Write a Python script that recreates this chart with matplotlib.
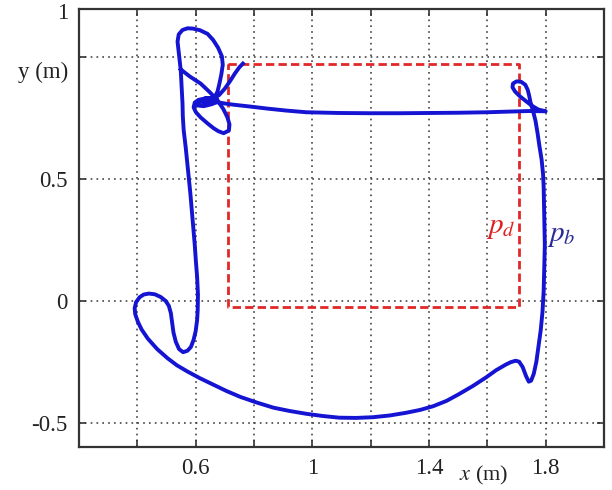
import numpy as np
import matplotlib.pyplot as plt

plt.rcParams['font.family'] = ['Liberation Serif', 'DejaVu Serif']
plt.rcParams['mathtext.fontset'] = 'stix'

# desired path (square)
rect_x = [0.71, 1.71, 1.71, 0.71, 0.71]
rect_y = [0.975, 0.975, -0.025, -0.025, 0.975]

# measured path of the body
path_x = [0.549, 0.580, 0.617, 0.648, 0.675, 0.695, 0.709, 0.716, 0.714, 0.696,
          0.678, 0.662, 0.640, 0.617, 0.601, 0.593, 0.597, 0.610, 0.630, 0.652,
          0.672, 0.676, 0.655, 0.628, 0.605, 0.615, 0.645, 0.680, 0.705, 0.730,
          0.790, 0.846, 0.910, 0.979, 1.09, 1.20, 1.30, 1.40, 1.50, 1.60,
          1.68, 1.74, 1.80, 1.775, 1.755, 1.735, 1.712, 1.695, 1.686, 1.688,
          1.700, 1.716, 1.730, 1.738, 1.743, 1.748, 1.756, 1.765, 1.772, 1.778,
          1.786, 1.791, 1.793, 1.795, 1.797, 1.795, 1.793, 1.789, 1.783, 1.776,
          1.768, 1.759, 1.750, 1.742, 1.733, 1.721, 1.709, 1.697, 1.680, 1.663,
          1.630, 1.595, 1.550, 1.503, 1.460, 1.414, 1.370, 1.321, 1.265, 1.209,
          1.150, 1.092, 1.035, 0.979, 0.920, 0.867, 0.810, 0.754, 0.705, 0.662,
          0.615, 0.573, 0.536, 0.504, 0.468, 0.436, 0.415, 0.402, 0.393, 0.391,
          0.396, 0.408, 0.422, 0.440, 0.460, 0.480, 0.497, 0.508, 0.515, 0.519,
          0.524, 0.532, 0.543, 0.557, 0.572, 0.584, 0.593, 0.600, 0.605, 0.607,
          0.608, 0.605, 0.601, 0.597, 0.590, 0.582, 0.573, 0.566, 0.559, 0.556,
          0.555, 0.552, 0.549, 0.543, 0.538, 0.542, 0.555, 0.572, 0.590, 0.615,
          0.641, 0.660, 0.677, 0.690, 0.693, 0.688, 0.682, 0.675, 0.665, 0.650,
          0.630, 0.618, 0.632, 0.660, 0.680, 0.700, 0.718, 0.735, 0.750, 0.762]
path_y = [0.951, 0.922, 0.893, 0.858, 0.824, 0.788, 0.754, 0.725, 0.700, 0.689,
          0.697, 0.709, 0.730, 0.754, 0.775, 0.795, 0.815, 0.826, 0.831, 0.834,
          0.830, 0.818, 0.808, 0.800, 0.803, 0.818, 0.822, 0.815, 0.810, 0.806,
          0.798, 0.790, 0.782, 0.775, 0.772, 0.771, 0.771, 0.772, 0.773, 0.775,
          0.778, 0.780, 0.779, 0.786, 0.800, 0.818, 0.840, 0.860, 0.878, 0.893,
          0.902, 0.900, 0.888, 0.868, 0.845, 0.815, 0.783, 0.740, 0.690, 0.640,
          0.580, 0.520, 0.467, 0.350, 0.230, 0.130, 0.040, -0.045, -0.120, -0.180,
          -0.250, -0.300, -0.328, -0.332, -0.310, -0.272, -0.250, -0.246, -0.252, -0.262,
          -0.285, -0.315, -0.350, -0.383, -0.411, -0.433, -0.448, -0.460, -0.471, -0.478,
          -0.481, -0.480, -0.473, -0.464, -0.452, -0.439, -0.418, -0.395, -0.370, -0.345,
          -0.318, -0.291, -0.265, -0.236, -0.198, -0.155, -0.118, -0.086, -0.055, -0.030,
          -0.005, 0.015, 0.026, 0.030, 0.027, 0.016, 0.000, -0.020, -0.050, -0.086,
          -0.130, -0.168, -0.198, -0.211, -0.205, -0.189, -0.160, -0.125, -0.080, -0.040,
          0.025, 0.100, 0.160, 0.230, 0.330, 0.440, 0.549, 0.630, 0.701, 0.760,
          0.811, 0.880, 0.947, 1.010, 1.065, 1.095, 1.113, 1.120, 1.119, 1.112,
          1.097, 1.072, 1.040, 1.005, 0.970, 0.930, 0.895, 0.860, 0.836, 0.822,
          0.815, 0.822, 0.832, 0.832, 0.845, 0.872, 0.903, 0.935, 0.960, 0.975]

xticks = [0.4, 0.6, 0.8, 1.0, 1.2, 1.4, 1.6, 1.8]
xtick_labels = ['', '0.6', '', '1', '', '1.4', '', '1.8']
yticks = [-0.5, 0, 0.5, 1.0]
ytick_labels = ['-0.5', '0', '0.5', '']

fig = plt.figure(figsize=(6.12, 4.9), dpi=100)
ax = fig.add_axes([0.129, 0.088, 0.858, 0.894])

ax.plot(rect_x, rect_y, color='#e02828', lw=2.0, dashes=(3, 1.5))
ax.plot(path_x, path_y, color='#1414d2', lw=2.8, solid_joinstyle='round')

ax.set_xlim(0.2, 2.0)
ax.set_ylim(-0.6, 1.2)
ax.set_xticks(xticks)
ax.set_xticklabels(xtick_labels)
ax.set_yticks(yticks)
ax.set_yticklabels(ytick_labels)
ax.tick_params(direction='in', length=5, width=1.2, colors='#333333',
               labelcolor='#222222', labelsize=16.5, pad=8,
               top=True, right=True)
ax.grid(True, color='#444444', lw=1.2, linestyle=(0, (1, 2.5)))
for s in ax.spines.values():
    s.set_color('#333333')
    s.set_linewidth(1.6)

ax.text(-0.021, 0.939, 'y (m)', transform=ax.get_yaxis_transform(),
        ha='right', va='center', fontsize=16.5, color='#222222')
ax.text(-0.021, 1.18, '1', transform=ax.get_yaxis_transform(),
        ha='right', va='center', fontsize=16.5, color='#222222')
ax.text(0.771, -0.066, '$x$ (m)', transform=ax.transAxes,
        ha='center', va='center', fontsize=16, color='#222222')

ax.text(1.645, 0.30, '$p_d$', color='#e02020', fontsize=21, ha='center', va='center')
ax.text(1.855, 0.265, '$p_b$', color='#2a2a9a', fontsize=21, ha='center', va='center')

fig.savefig('out.png', dpi=100)
